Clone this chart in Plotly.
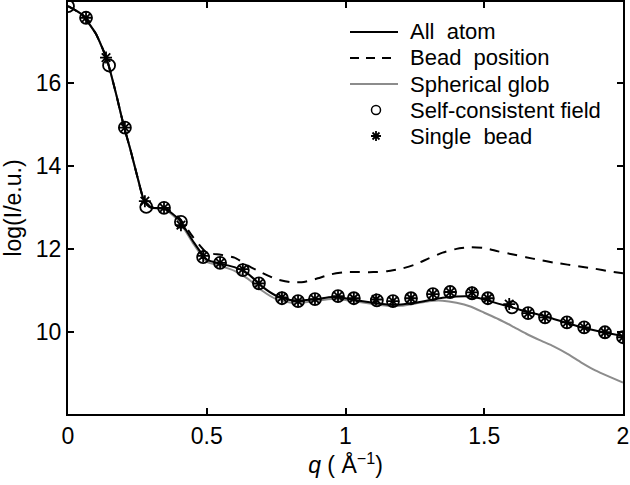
import plotly.graph_objects as go

# All atom (solid black)
q_all = [0, 0.05, 0.1, 0.14, 0.175, 0.2, 0.225, 0.25, 0.27, 0.285, 0.3, 0.35, 0.4, 0.45, 0.5, 0.55, 0.6, 0.65, 0.7, 0.75,
         0.8, 0.85, 0.9, 0.95, 1.0, 1.05, 1.1, 1.15, 1.2, 1.25, 1.3, 1.35, 1.4, 1.45, 1.5, 1.55, 1.6, 1.65, 1.7, 1.75,
         1.8, 1.85, 1.9, 1.95, 2.0]
y_all = [17.86, 17.66, 17.2, 16.58, 15.7, 15.0, 14.4, 13.75, 13.25, 13.07, 13.0, 12.98, 12.72, 12.2, 11.75, 11.65, 11.57, 11.4, 11.1, 10.88,
         10.78, 10.77, 10.8, 10.85, 10.82, 10.76, 10.71, 10.67, 10.67, 10.71, 10.77, 10.83, 10.86, 10.86, 10.79, 10.69, 10.6, 10.5, 10.42, 10.32,
         10.22, 10.12, 10.04, 9.97, 9.91]

# Bead position (dashed black)
q_bead = q_all
y_bead = [17.86, 17.66, 17.2, 16.58, 15.7, 15.0, 14.4, 13.75, 13.25, 13.08, 13.02, 13.0, 12.76, 12.3, 11.92, 11.87, 11.8, 11.6, 11.43, 11.28,
          11.21, 11.21, 11.3, 11.4, 11.45, 11.45, 11.45, 11.47, 11.53, 11.63, 11.78, 11.92, 12.01, 12.05, 12.03, 11.95, 11.88, 11.81, 11.74, 11.68,
          11.63, 11.58, 11.53, 11.47, 11.42]

# Spherical glob (gray)
q_glob = q_all
y_glob = [17.86, 17.66, 17.2, 16.58, 15.7, 15.0, 14.4, 13.75, 13.25, 13.07, 13.0, 12.96, 12.68, 12.15, 11.7, 11.6, 11.48, 11.28, 11.0, 10.8,
          10.72, 10.72, 10.76, 10.8, 10.78, 10.73, 10.68, 10.64, 10.64, 10.69, 10.75, 10.76, 10.71, 10.62, 10.47, 10.32, 10.15, 9.97, 9.81, 9.66,
          9.48, 9.27, 9.08, 8.93, 8.79]

# Self-consistent field (open circles)
q_scf = [0, 0.065, 0.148, 0.205, 0.282, 0.346, 0.407, 0.487, 0.548, 0.63, 0.688, 0.771, 0.829, 0.89, 0.973,
         1.03, 1.113, 1.171, 1.236, 1.315, 1.377, 1.456, 1.513, 1.6, 1.658, 1.719, 1.798, 1.86, 1.935, 2.0]
y_scf = [17.86, 17.58, 16.43, 14.93, 13.02, 13.0, 12.66, 11.81, 11.67, 11.5, 11.18, 10.82, 10.75, 10.8, 10.87,
         10.82, 10.77, 10.75, 10.82, 10.92, 10.97, 10.94, 10.82, 10.6, 10.46, 10.36, 10.24, 10.12, 10.0, 9.88]

# Single bead (asterisks)
q_sb = [0.065, 0.137, 0.205, 0.277, 0.346, 0.407, 0.487, 0.548, 0.63, 0.688, 0.771, 0.829, 0.89, 0.973,
        1.03, 1.11, 1.171, 1.236, 1.315, 1.377, 1.456, 1.513, 1.59, 1.658, 1.719, 1.798, 1.86, 1.935, 2.0]
y_sb = [17.58, 16.62, 14.93, 13.16, 13.0, 12.58, 11.84, 11.67, 11.52, 11.18, 10.84, 10.75, 10.8, 10.87,
        10.82, 10.79, 10.75, 10.82, 10.92, 10.97, 10.96, 10.82, 10.68, 10.46, 10.36, 10.24, 10.12, 10.0, 9.88]

legend_labels = ["All  atom", "Bead  position", "Spherical glob", "Self-consistent field", "Single  bead"]

x_ticks = [0, 0.5, 1, 1.5, 2]
x_tick_text = ["0", "0.5", "1", "1.5", "2"]
y_ticks = [10, 12, 14, 16]

FONT = "Liberation Sans, Arial, sans-serif"
W, H = 630, 485
ML, MR, MT, MB = 68, 7, 2, 71
PW, PH = W - ML - MR, H - MT - MB


def px2paper_x(px):
    return (px - ML) / PW


def px2paper_y(py):
    return 1 - (py - MT) / PH


fig = go.Figure()
fig.add_trace(go.Scatter(x=q_glob, y=y_glob, mode="lines", name=legend_labels[2],
                         line=dict(color="#8c8c8c", width=2, shape="spline", smoothing=0.5)))
fig.add_trace(go.Scatter(x=q_bead, y=y_bead, mode="lines", name=legend_labels[1],
                         line=dict(color="black", width=2, dash="10px,8px", shape="spline", smoothing=0.5)))
fig.add_trace(go.Scatter(x=q_all, y=y_all, mode="lines", name=legend_labels[0],
                         line=dict(color="black", width=2, shape="spline", smoothing=0.5)))
fig.add_trace(go.Scatter(x=q_scf, y=y_scf, mode="markers", name=legend_labels[3],
                         marker=dict(symbol="circle-open", size=12, color="black", line=dict(color="black", width=1.8))))
fig.add_trace(go.Scatter(x=q_sb, y=y_sb, mode="markers", name=legend_labels[4],
                         marker=dict(symbol="asterisk-open", size=10, color="black", line=dict(color="black", width=1.8))))

# Hand-built legend (matching the reference's compact layout)
row_y = [32, 58, 84, 110, 136]
x_line0, x_line1, x_mark, x_text = 350, 398, 376, 408
annotations = []
shapes = []
line_styles = [dict(color="black", width=2), dict(color="black", width=2, dash="9px,7px"),
               dict(color="#8c8c8c", width=2)]
for i, lab in enumerate(legend_labels):
    yy = px2paper_y(row_y[i])
    annotations.append(dict(x=px2paper_x(x_text), y=yy, xref="paper", yref="paper", text=lab, showarrow=False,
                            xanchor="left", yanchor="middle", font=dict(family=FONT, size=22, color="black")))
    if i < 3:
        shapes.append(dict(type="line", xref="paper", yref="paper", x0=px2paper_x(x_line0), x1=px2paper_x(x_line1),
                           y0=yy, y1=yy, line=line_styles[i]))
    elif i == 3:
        shapes.append(dict(type="circle", xref="paper", yref="paper", xsizemode="pixel", ysizemode="pixel",
                           xanchor=px2paper_x(x_mark), yanchor=yy, x0=-4.5, x1=4.5, y0=-4.5, y1=4.5,
                           line=dict(color="black", width=1.5)))
    else:
        r = 5
        path = (f"M{-r},0 L{r},0 M0,{-r} L0,{r} "
                f"M{-r*0.7:.2f},{-r*0.7:.2f} L{r*0.7:.2f},{r*0.7:.2f} "
                f"M{-r*0.7:.2f},{r*0.7:.2f} L{r*0.7:.2f},{-r*0.7:.2f}")
        shapes.append(dict(type="path", xref="paper", yref="paper", xsizemode="pixel", ysizemode="pixel",
                           xanchor=px2paper_x(x_mark), yanchor=yy, path=path,
                           line=dict(color="black", width=1.8)))

axis_common = dict(showline=True, linecolor="black", linewidth=2, mirror="ticks", ticks="inside",
                   ticklen=6, tickwidth=1.5, tickcolor="black", showgrid=False, zeroline=False,
                   tickfont=dict(family=FONT, size=23, color="black"))

fig.update_layout(
    width=W, height=H,
    margin=dict(l=ML, r=MR, t=MT, b=MB, autoexpand=False),
    paper_bgcolor="white", plot_bgcolor="white",
    xaxis=dict(range=[0, 2], tickvals=x_ticks, ticktext=x_tick_text,
               title=dict(text="<i>q</i> ( Å<sup>−1</sup>)", font=dict(family=FONT, size=23, color="black"), standoff=6),
               **axis_common),
    yaxis=dict(range=[8.03, 17.96], tickvals=y_ticks,
               title=dict(text="log(I/e.u.)", font=dict(family=FONT, size=23, color="black"), standoff=8),
               **axis_common),
    showlegend=False,
    annotations=annotations,
    shapes=shapes,
)

fig.write_html("out.html", config={"displayModeBar": False},
               post_script="document.body.style.margin='0px';document.body.style.overflow='hidden';")
